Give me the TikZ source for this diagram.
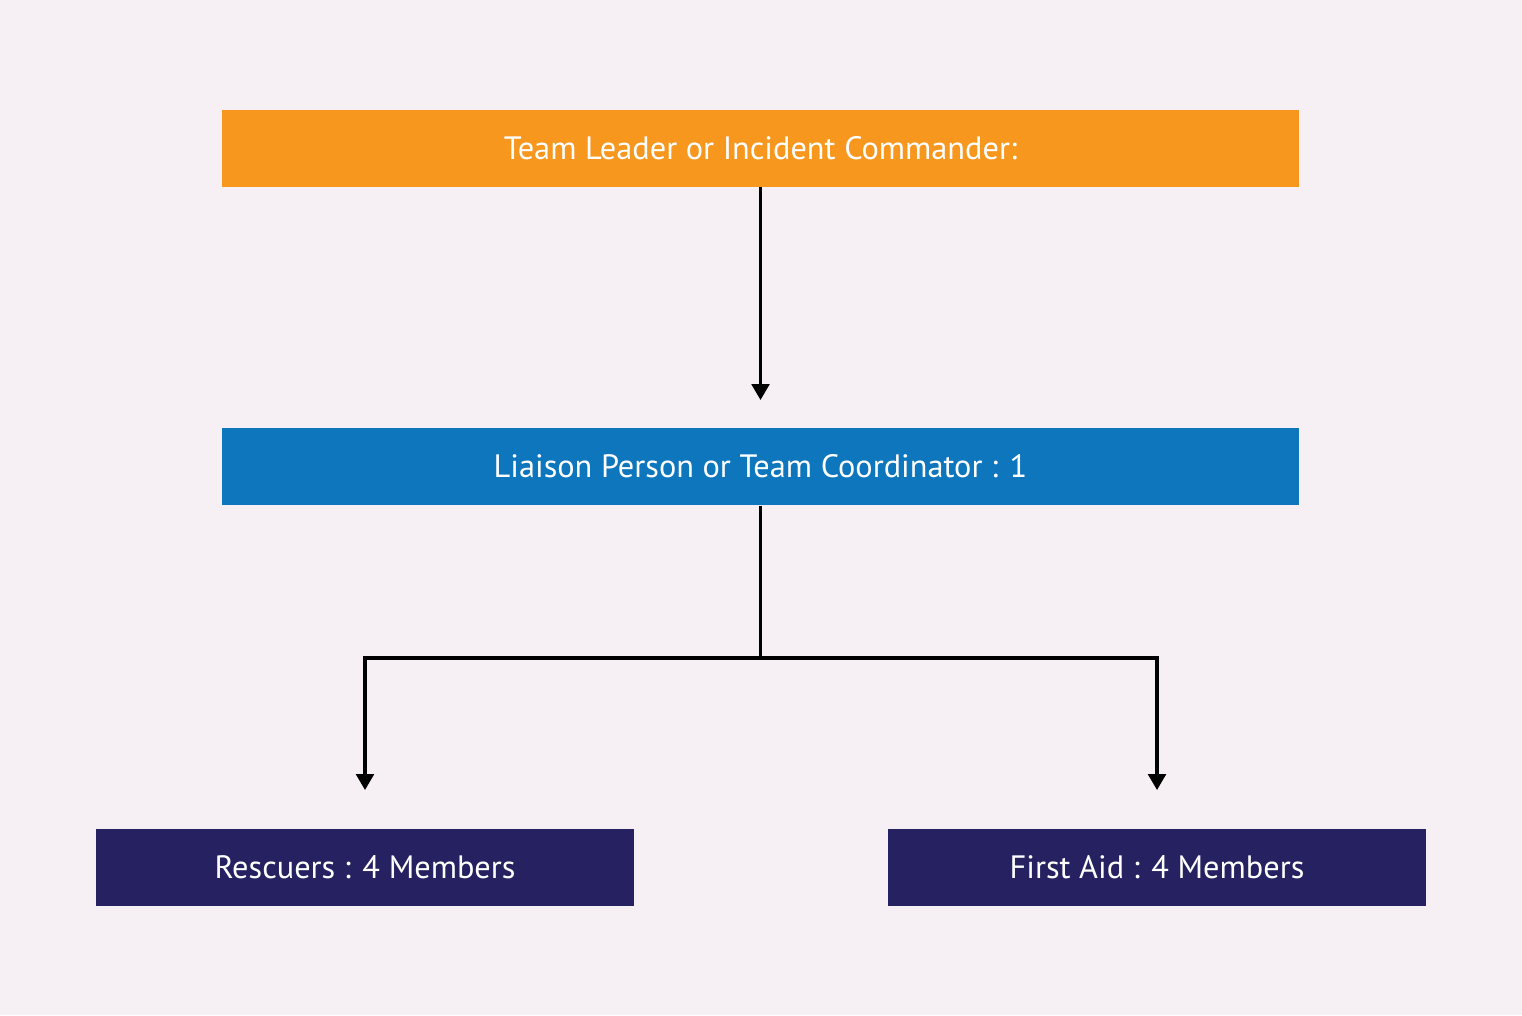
\documentclass[tikz,border=0pt]{standalone}
\usepackage{fontspec}
\setmainfont{PT Sans}
\usetikzlibrary{arrows.meta,positioning}
\definecolor{bgpink}{HTML}{F6F0F4}
\definecolor{leadorange}{HTML}{F7971E}
\definecolor{liaisonblue}{HTML}{0E76BC}
\definecolor{teamnavy}{HTML}{262262}
\begin{document}
\begin{tikzpicture}[
    lead/.style={rectangle, fill=leadorange, text=white, minimum width=10.77cm, minimum height=0.77cm, inner sep=0pt, font=\fontsize{9.2}{11}\selectfont},
    liaison/.style={lead, fill=liaisonblue},
    team/.style={lead, fill=teamnavy, minimum width=5.38cm},
    arrow/.style={-{Triangle[length=4.5pt,width=5pt]}, line width=0.9pt, black},
    link/.style={line width=0.9pt, black}
]
    \fill[bgpink] (0,0) rectangle (15.22,-10.15);
    \useasboundingbox (0,0) rectangle (15.22,-10.15);

    \node[lead] (leader) at (7.605,-1.48) {Team Leader or Incident Commander:};
    \node[liaison] (coord) at (7.605,-4.665) {Liaison Person or Team Coordinator : 1};
    \node[team] (rescue) at (3.65,-8.675) {Rescuers : 4 Members};
    \node[team] (aid) at (11.57,-8.675) {First Aid : 4 Members};

    \coordinate (split) at (7.605,-6.58);
    \coordinate (rescuetip) at (3.65,-7.9);
    \coordinate (aidtip) at (11.57,-7.9);
    \coordinate (coordtip) at (7.605,-4.0);

    \draw[arrow] (leader.south) -- (coordtip);
    \draw[link] (coord.south) -- (split);
    \draw[arrow] (split) -| (rescuetip);
    \draw[arrow] (split) -| (aidtip);
\end{tikzpicture}
\end{document}
